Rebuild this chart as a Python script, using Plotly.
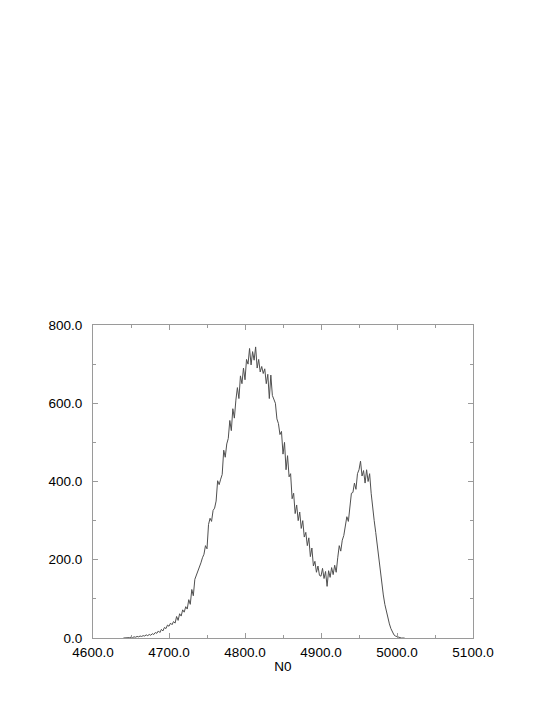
import plotly.graph_objects as go

# Histogram of N0: bin start, bin width, counts
bin_start = 4640
bin_step = 2
counts = [
    0, 0, 1, 0, 1, 2, 1, 3, 2, 4,
    3, 5, 4, 6, 5, 8, 6, 9, 7, 11,
    9, 14, 12, 18, 14, 22, 18, 27, 24, 33,
    30, 38, 34, 42, 38, 55, 45, 62, 56, 72,
    66, 80, 74, 98, 86, 124, 108, 150, 160, 168,
    180, 192, 205, 214, 236, 228, 290, 306, 298, 326,
    332, 350, 402, 392, 406, 418, 480, 462, 496, 510,
    556, 530, 586, 562, 608, 640, 612, 670, 650, 690,
    660, 712, 700, 740, 698, 732, 710, 744, 690, 712,
    680, 694, 676, 688, 650, 674, 612, 672, 620, 610,
    600, 560, 548, 520, 528, 470, 500, 430, 466, 412,
    420, 356, 370, 318, 340, 300, 322, 280, 300, 258,
    270, 236, 256, 208, 230, 184, 196, 168, 184, 160,
    158, 178, 152, 170, 132, 172, 155, 180, 162, 186,
    168, 205, 236, 222, 250, 262, 282, 310, 298, 340,
    370, 372, 396, 380, 420, 430, 452, 414, 428, 396,
    430, 400, 420, 370, 330, 300, 270, 236, 204, 164,
    132, 110, 86, 68, 50, 36, 24, 14, 8, 5,
    3, 2, 1, 0, 0, 0,
]
n0 = [bin_start + bin_step * i for i in range(len(counts))]

x_title = "N0"
x_range = [4600, 5100]
y_range = [0, 800]

font_family = "Liberation Sans, Arial, sans-serif"

fig = go.Figure()
fig.add_trace(go.Scatter(
    x=n0, y=counts, mode="lines",
    line=dict(color="#505050", width=1),
    showlegend=False,
))

axis_common = dict(
    showline=True, linecolor="#9a9a9a", linewidth=1,
    mirror="ticks", ticks="inside", ticklen=5, tickcolor="#9a9a9a",
    showgrid=False, zeroline=False, tickformat=".1f",
    tickfont=dict(family=font_family, size=13.5, color="#000000"),
)

fig.update_xaxes(
    range=x_range, dtick=100, tick0=4600,
    minor=dict(ticks="inside", ticklen=3, dtick=50, tickcolor="#9a9a9a"),
    title=dict(text=x_title, standoff=2,
               font=dict(family=font_family, size=13.5, color="#000000")),
    ticklabelstandoff=2,
    **axis_common,
)
fig.update_yaxes(
    range=y_range, dtick=200, tick0=0,
    minor=dict(ticks="inside", ticklen=3, dtick=100, tickcolor="#9a9a9a"),
    ticklabelstandoff=7,
    **axis_common,
)

# page body has an 8px margin, so margins are offset accordingly
fig.update_layout(
    width=554, height=717,
    margin=dict(l=85, r=89, t=317, b=87),
    paper_bgcolor="white", plot_bgcolor="white",
)

fig.write_html("out.html")
